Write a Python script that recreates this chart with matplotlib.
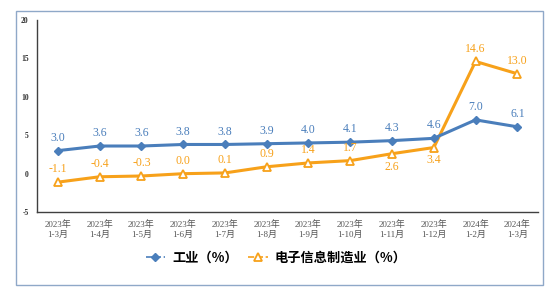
import matplotlib
matplotlib.use("Agg")
import matplotlib.pyplot as plt
from matplotlib.patches import Rectangle

plt.rcParams['font.family'] = ['Liberation Serif', 'Noto Sans CJK SC', 'DejaVu Sans']

# données
periods = ["2023年\n1-3月", "2023年\n1-4月", "2023年\n1-5月", "2023年\n1-6月",
           "2023年\n1-7月", "2023年\n1-8月", "2023年\n1-9月", "2023年\n1-10月",
           "2023年\n1-11月", "2023年\n1-12月", "2024年\n1-2月", "2024年\n1-3月"]
industry = [3.0, 3.6, 3.6, 3.8, 3.8, 3.9, 4.0, 4.1, 4.3, 4.6, 7.0, 6.1]
electronics = [-1.1, -0.4, -0.3, 0.0, 0.1, 0.9, 1.4, 1.7, 2.6, 3.4, 14.6, 13.0]
# labels de l'électronique placés sous le point
below = [8, 9]

blue = "#4a7ebb"
orange = "#f7a11a"

fig = plt.figure(figsize=(5.52, 2.89), dpi=100)
ax = fig.add_axes([0.067, 0.266, 0.908, 0.665])

x = list(range(len(periods)))
ax.plot(x, industry, color=blue, lw=2.2, marker="D", ms=4.5, label="工业（%）", zorder=3)
ax.plot(x, electronics, color=orange, lw=2.2, marker="^", ms=6, mfc="white",
        mec=orange, mew=1.3, label="电子信息制造业（%）", zorder=2)

for i, v in enumerate(industry):
    ax.annotate(f"{v:.1f}", (i, v), xytext=(0, 5), textcoords="offset points",
                ha="center", va="bottom", color=blue, fontsize=8.5)
for i, v in enumerate(electronics):
    if i in below:
        ax.annotate(f"{v:.1f}", (i, v), xytext=(0, -5), textcoords="offset points",
                    ha="center", va="top", color=orange, fontsize=8.5)
    else:
        ax.annotate(f"{v:.1f}", (i, v), xytext=(0, 5), textcoords="offset points",
                    ha="center", va="bottom", color=orange, fontsize=8.5)

ax.set_xlim(-0.5, 11.5)
ax.set_ylim(-5, 20)
ax.set_yticks([-5, 0, 5, 10, 15, 20])
ax.set_yticklabels(["-5", "0", "5", "10", "15", "20"], fontsize=5.5, fontweight="bold", color="#333333")
ax.set_xticks(x)
ax.set_xticklabels(periods, fontsize=6.5, color="#555555", linespacing=1.3)
ax.tick_params(length=0, pad=6)
for s in ["top", "right"]:
    ax.spines[s].set_visible(False)
for s in ["left", "bottom"]:
    ax.spines[s].set_color("#404040")
    ax.spines[s].set_linewidth(1.0)

leg = fig.legend(loc="center", bbox_to_anchor=(0.5, 0.107), ncol=2, frameon=False,
                 prop={"family": ["Noto Sans CJK SC"], "size": 9.5, "weight": "bold"},
                 handlelength=1.5, handletextpad=0.5, columnspacing=0.8)
for h in leg.legend_handles:
    h.set_linestyle("--")
    h.set_linewidth(1.2)

# cadre autour de la figure
fig.patches.append(Rectangle((16 / 552, 4 / 289), 527 / 552, 274 / 289, transform=fig.transFigure,
                             fill=False, edgecolor="#8fa8c8", lw=1.0))

fig.savefig("out.png", dpi=100)
